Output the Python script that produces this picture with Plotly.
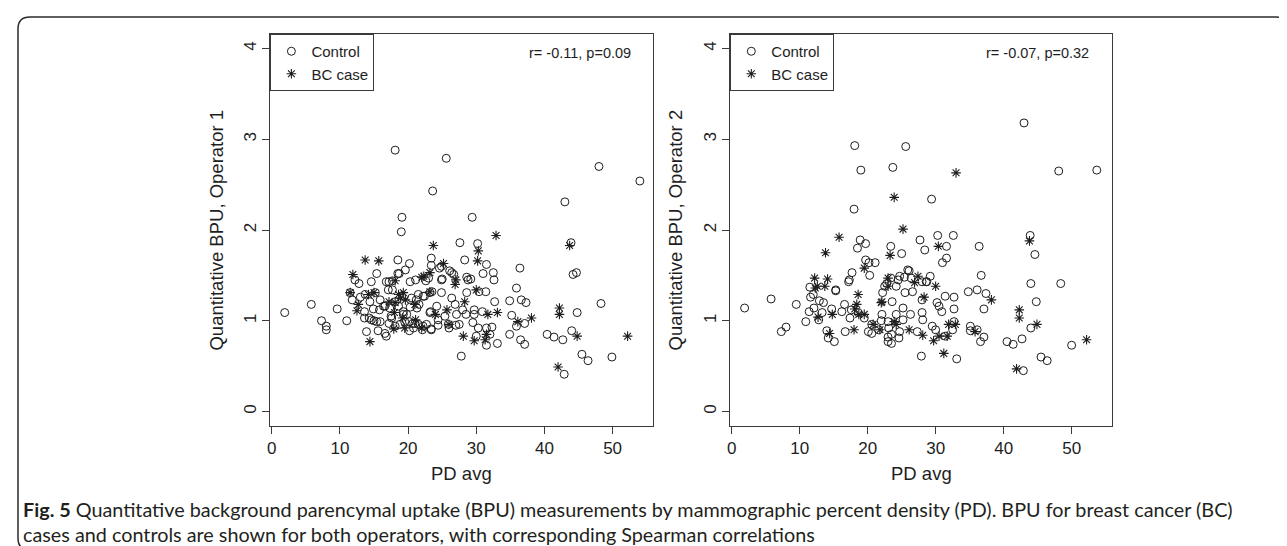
import plotly.graph_objects as go

# ---------------- data ----------------
ctrl1_x = [1.9, 5.8, 7.3, 8.0, 8.0, 9.6, 11.0, 11.5, 11.8, 12.2, 12.8, 13.0, 13.6, 13.6, 13.9, 14.3, 14.6, 14.6,
           14.9, 15.0, 15.4, 15.4, 15.6, 15.8, 15.9, 16.6, 16.6, 16.8, 17.1, 17.2, 17.2, 17.5, 17.7, 17.7, 18.1,
           18.5, 18.5, 18.6, 18.7, 19.0, 19.1, 18.1, 19.3, 19.5, 19.6, 20.2, 20.2, 20.2, 20.3, 20.3, 20.7, 21.1,
           21.2, 21.3, 21.5, 21.5, 22.1, 22.4, 22.6, 23.0, 23.2, 23.3, 23.4, 23.4, 23.4, 23.5, 23.6, 24.4, 24.6,
           24.9, 24.9, 24.9, 25.0, 25.6, 26.0, 26.1, 26.4, 26.4, 26.7, 27.0, 27.5, 27.6, 27.8, 28.3, 28.6, 28.6,
           28.8, 29.2, 29.4, 29.5, 29.7, 29.7, 30.0, 30.2, 30.3, 30.4, 30.9, 31.0, 31.4, 31.5, 31.5, 32.3, 32.5,
           32.6, 32.7, 33.1, 34.9, 34.9, 35.2, 35.9, 35.9, 36.4, 36.6, 36.5, 37.1, 37.1, 37.3, 40.4, 41.4, 42.7,
           42.9, 43.0, 43.9, 44.0, 44.2, 44.7, 44.8, 45.5, 46.4, 48.0, 48.3, 49.9, 54.0,
           15.9, 16.4, 17.3, 18.1, 19.3, 19.8, 20.5, 21.0, 21.6, 22.2, 22.7, 23.2, 24.2, 24.4, 25.4, 25.9, 26.9,
           27.1, 28.0, 28.5, 31.5, 32.0, 22.2, 23.4, 20.8, 18.8, 17.6, 14.4, 13.7, 15.2, 16.8]
ctrl1_y = [1.09, 1.18, 1.00, 0.94, 0.90, 1.13, 1.00, 1.31, 1.23, 1.45, 1.41, 1.26, 1.03, 1.10, 0.88, 1.03, 1.01, 1.43,
           1.13, 1.00, 1.52, 0.99, 0.89, 1.12, 0.99, 1.16, 0.86, 0.83, 1.34, 0.97, 1.43, 1.05, 1.44, 1.34, 0.94,
           1.67, 1.52, 1.16, 1.52, 1.98, 2.14, 2.88, 1.07, 0.99, 1.56, 1.63, 0.99, 0.89, 1.15, 1.43, 0.97, 1.45,
           1.23, 1.14, 1.29, 0.96, 0.90, 1.27, 1.44, 1.47, 1.31, 1.10, 0.91, 1.61, 1.69, 1.32, 2.43, 0.95, 1.58,
           1.60, 1.45, 1.31, 1.46, 2.79, 0.92, 1.55, 1.25, 1.53, 1.51, 0.95, 0.96, 1.86, 0.61, 1.67, 1.31, 1.48,
           1.45, 1.46, 2.14, 0.98, 1.12, 1.07, 0.83, 1.85, 0.92, 1.32, 1.10, 1.52, 1.32, 0.73, 1.62, 0.93, 1.53,
           1.45, 1.21, 0.75, 1.22, 0.85, 1.06, 1.36, 0.94, 1.58, 1.23, 0.79, 0.97, 0.74, 1.20, 0.85, 0.82, 0.79,
           0.41, 2.31, 1.86, 0.89, 1.51, 1.53, 1.09, 0.63, 0.56, 2.70, 1.19, 0.60, 2.54,
           1.23, 1.16, 1.14, 1.21, 1.10, 1.07, 1.25, 0.97, 1.18, 1.27, 0.96, 1.09, 1.16, 1.01, 1.05, 0.96, 1.18,
           1.07, 1.12, 1.07, 0.92, 0.85, 0.94, 0.90, 0.92, 0.96, 1.03, 1.21, 1.29, 1.31, 1.43]

case1_x = [11.9, 12.5, 12.7, 11.5, 13.7, 14.2, 14.4, 15.0, 15.7, 17.2, 17.9, 18.0, 18.1, 18.1, 18.6, 19.2, 19.3,
           19.6, 21.0, 21.1, 22.0, 22.0, 22.3, 23.2, 23.7, 25.2, 26.9, 28.1, 28.3, 29.7, 30.2, 30.3, 31.3, 31.5,
           31.7, 32.9, 33.1, 36.1, 38.1, 42.0, 42.2, 42.2, 43.7, 44.8, 52.2,
           18.9, 23.2, 25.7, 30.0, 19.5, 26.0, 24.0, 27.0]
case1_y = [1.51, 1.11, 1.18, 1.31, 1.67, 1.29, 0.77, 1.31, 1.66, 1.21, 0.91, 1.09, 1.44, 1.20, 1.29, 1.03, 1.31,
           1.23, 1.18, 1.01, 0.92, 1.48, 1.49, 1.53, 1.83, 1.63, 1.40, 0.83, 1.21, 0.78, 1.66, 1.77, 0.79, 0.85,
           1.07, 1.94, 1.09, 0.99, 1.03, 0.49, 1.14, 1.07, 1.83, 0.83, 0.83,
           1.25, 1.32, 1.12, 1.34, 0.92, 0.96, 1.07, 1.45]

ctrl2_x = [1.9, 5.8, 7.3, 8.0, 9.5, 10.9, 11.4, 11.5, 12.0, 11.6, 12.1, 12.8, 12.9, 13.3, 13.5, 14.0, 14.2, 14.7,
           15.1, 15.3, 15.3, 16.2, 16.6, 16.7, 17.2, 17.3, 17.4, 17.6, 17.7, 18.0, 18.1, 18.5, 18.6, 18.9, 19.0,
           19.5, 19.7, 19.7, 20.1, 20.2, 20.3, 20.6, 20.6, 21.1, 21.6, 22.0, 22.1, 22.2, 22.5, 22.8, 23.0, 23.0,
           23.0, 23.1, 23.4, 23.4, 23.5, 23.5, 23.6, 23.7, 24.2, 24.2, 24.5, 24.6, 24.7, 24.7, 25.0, 25.2, 25.2,
           25.4, 25.5, 25.6, 25.9, 26.1, 26.3, 26.4, 26.6, 27.3, 27.7, 27.9, 28.0, 28.0, 28.0, 28.1, 28.4, 28.6,
           28.7, 29.2, 29.4, 29.5, 30.0, 30.2, 30.3, 30.5, 30.9, 31.0, 31.4, 31.4, 31.6, 31.6, 32.5, 32.6, 32.7,
           32.7, 32.7, 33.1, 34.8, 35.1, 35.1, 36.1, 36.1, 36.4, 36.6, 36.7, 37.1, 37.1, 37.4, 40.5, 41.4, 42.7,
           42.9, 43.0, 43.9, 44.0, 44.0, 44.6, 44.8, 45.5, 46.4, 48.1, 48.4, 50.0, 53.7]
ctrl2_y = [1.14, 1.24, 0.88, 0.93, 1.18, 0.99, 1.10, 1.37, 1.29, 1.26, 1.14, 1.01, 1.22, 1.09, 1.20, 0.89, 0.81, 1.13,
           0.77, 1.34, 1.33, 1.10, 1.18, 0.88, 1.43, 1.45, 1.03, 1.12, 1.53, 2.23, 2.93, 1.80, 1.09, 1.89, 2.66,
           1.03, 1.85, 1.67, 0.88, 1.64, 1.50, 0.96, 0.86, 1.64, 0.90, 1.00, 1.07, 1.31, 1.38, 1.41, 0.99, 0.77,
           0.82, 0.92, 1.82, 1.47, 0.85, 0.75, 1.21, 2.69, 1.38, 1.07, 1.45, 0.81, 0.88, 1.49, 1.74, 1.14, 1.01,
           1.48, 1.31, 2.92, 1.56, 1.55, 1.07, 1.47, 1.32, 0.88, 1.89, 0.61, 1.43, 1.23, 1.09, 1.01, 1.78, 1.43,
           1.43, 1.49, 2.34, 0.94, 0.90, 1.20, 1.94, 1.16, 1.10, 1.64, 1.27, 0.83, 1.82, 1.69, 0.90, 1.94, 1.26,
           1.13, 0.99, 0.58, 1.32, 0.94, 0.89, 1.34, 0.90, 1.82, 0.77, 1.50, 1.13, 0.82, 1.30, 0.77, 0.74, 0.80,
           0.45, 3.18, 1.94, 0.92, 1.41, 1.73, 1.21, 0.60, 0.56, 2.65, 1.41, 0.73, 2.66]

case2_x = [12.2, 12.3, 12.6, 12.7, 13.7, 13.8, 14.1, 14.4, 14.8, 15.8, 18.0, 18.1, 18.4, 18.6, 18.7, 19.5, 19.5,
           20.8, 21.8, 22.0, 22.1, 23.0, 23.0, 23.3, 23.9, 23.9, 24.2, 25.2, 26.1, 26.9, 27.4, 28.1, 28.3, 29.7,
           30.0, 30.4, 30.5, 31.2, 31.7, 31.9, 32.9, 33.0, 35.8, 38.2, 41.9, 42.3, 42.3, 43.8, 44.9, 52.2]
case2_y = [1.47, 1.36, 1.38, 1.04, 1.38, 1.75, 1.46, 0.86, 1.07, 1.92, 0.90, 1.13, 1.18, 1.29, 1.07, 1.58, 1.07,
           0.96, 0.90, 1.20, 1.21, 1.38, 1.47, 1.72, 2.36, 0.99, 0.96, 2.01, 0.90, 1.42, 1.49, 0.84, 1.26, 0.78,
           1.38, 1.82, 0.83, 0.64, 0.83, 0.96, 0.96, 2.63, 0.88, 1.23, 0.47, 1.12, 1.03, 1.88, 0.96, 0.79]

x_ticks = [0, 10, 20, 30, 40, 50]
y_ticks = [0, 1, 2, 3, 4]
series_names = ["Control", "BC case"]
panel_ylabels = ["Quantitative BPU, Operator 1", "Quantitative BPU, Operator 2"]
panel_stats = ["r= -0.11, p=0.09", "r= -0.07, p=0.32"]
x_label = "PD avg"
caption_1 = ("<b>Fig. 5</b> Quantitative background parencymal uptake (BPU) measurements by mammographic "
             "percent density (PD). BPU for breast cancer (BC)")
caption_2 = "cases and controls are shown for both operators, with corresponding Spearman correlations"

# ---------------- layout helpers ----------------
W, H = 1287, 546
def fx(px):
    return px / W
def fy(py):
    return 1 - py / H

panels = [
    dict(left=260, right=644, xa="x", ya="y", leg="legend"),
    dict(left=721, right=1104, xa="x2", ya="y2", leg="legend2"),
]
TOP, BOT = 26, 418
INK = "#1e1e1e"
AX = "#3a3a3a"
FONT = "Liberation Sans, Arial, sans-serif"
CAP_FONT = "Lato, sans-serif"

fig = go.Figure()
data = [(ctrl1_x, ctrl1_y, case1_x, case1_y), (ctrl2_x, ctrl2_y, case2_x, case2_y)]
for p, (cx, cy, kx, ky) in zip(panels, data):
    fig.add_trace(go.Scatter(x=cx, y=cy, mode="markers", name=series_names[0],
                             xaxis=p["xa"], yaxis=p["ya"], legend=p["leg"],
                             marker=dict(symbol="circle-open", size=8, color=INK, line=dict(width=1, color=INK))))
    fig.add_trace(go.Scatter(x=kx, y=ky, mode="markers", name=series_names[1],
                             xaxis=p["xa"], yaxis=p["ya"], legend=p["leg"],
                             marker=dict(symbol="asterisk-open", size=8, color=INK, line=dict(width=1.1, color=INK))))

axis_common = dict(showline=True, mirror=True, linecolor=AX, linewidth=1, ticks="outside", ticklen=7,
                   tickcolor=AX, tickwidth=1, showgrid=False, zeroline=False,
                   tickfont=dict(family=FONT, size=17, color=INK))
layout = dict(width=W, height=H, margin=dict(l=0, r=0, t=0, b=0), autosize=False,
              paper_bgcolor="white", plot_bgcolor="white", showlegend=True)
for i, p in enumerate(panels):
    sfx = "" if i == 0 else "2"
    layout["xaxis" + sfx] = dict(domain=[fx(p["left"]), fx(p["right"])], range=[-0.2, 56.0],
                                 tickvals=x_ticks, anchor="y" + sfx, **axis_common)
    layout["yaxis" + sfx] = dict(domain=[fy(BOT), fy(TOP)], range=[-0.16, 4.16], tickvals=y_ticks,
                                 tickangle=-90, anchor="x" + sfx, **axis_common)
    layout["legend" + sfx] = dict(x=fx(p["left"]), y=fy(TOP), xanchor="left", yanchor="top",
                                  bgcolor="white", bordercolor=AX, borderwidth=1,
                                  font=dict(family=FONT, size=15, color=INK), tracegroupgap=0,
                                  itemwidth=30)
fig.update_layout(**layout)

ann = []
for i, p in enumerate(panels):
    cxp = (p["left"] + p["right"]) / 2
    ann.append(dict(text=x_label, x=fx(cxp), y=fy(465), xref="paper", yref="paper", showarrow=False,
                    xanchor="center", yanchor="middle", font=dict(family=FONT, size=18.5, color=INK)))
    ann.append(dict(text=panel_ylabels[i], x=fx(p["left"] - 55), y=fy((TOP + BOT) / 2), xref="paper",
                    yref="paper", showarrow=False, textangle=-90, xanchor="center", yanchor="middle",
                    font=dict(family=FONT, size=18.5, color=INK)))
    ann.append(dict(text=panel_stats[i], x=fx(p["right"] - 21), y=fy(45), xref="paper", yref="paper",
                    showarrow=False, xanchor="right", yanchor="middle",
                    font=dict(family=FONT, size=14.5, color=INK)))
ann.append(dict(text=caption_1, x=fx(10), y=fy(501), xref="paper", yref="paper", showarrow=False,
                xanchor="left", yanchor="middle", font=dict(family=CAP_FONT, size=19.8, color="#231f20")))
ann.append(dict(text=caption_2, x=fx(10), y=fy(526), xref="paper", yref="paper", showarrow=False,
                xanchor="left", yanchor="middle", font=dict(family=CAP_FONT, size=19.8, color="#231f20")))
fig.update_layout(annotations=ann)

# outer rounded frame
l, t, r, b, rad = 7, 9, 1280, 542, 12
path = (f"M {fx(l+rad)},{fy(t)} L {fx(r-rad)},{fy(t)} Q {fx(r)},{fy(t)} {fx(r)},{fy(t+rad)} "
        f"L {fx(r)},{fy(b-rad)} Q {fx(r)},{fy(b)} {fx(r-rad)},{fy(b)} "
        f"L {fx(l+rad)},{fy(b)} Q {fx(l)},{fy(b)} {fx(l)},{fy(b-rad)} "
        f"L {fx(l)},{fy(t+rad)} Q {fx(l)},{fy(t)} {fx(l+rad)},{fy(t)} Z")
fig.add_shape(type="path", path=path, xref="paper", yref="paper", line=dict(color="#2b2b2b", width=1.5))

fig.write_html("out.html")
